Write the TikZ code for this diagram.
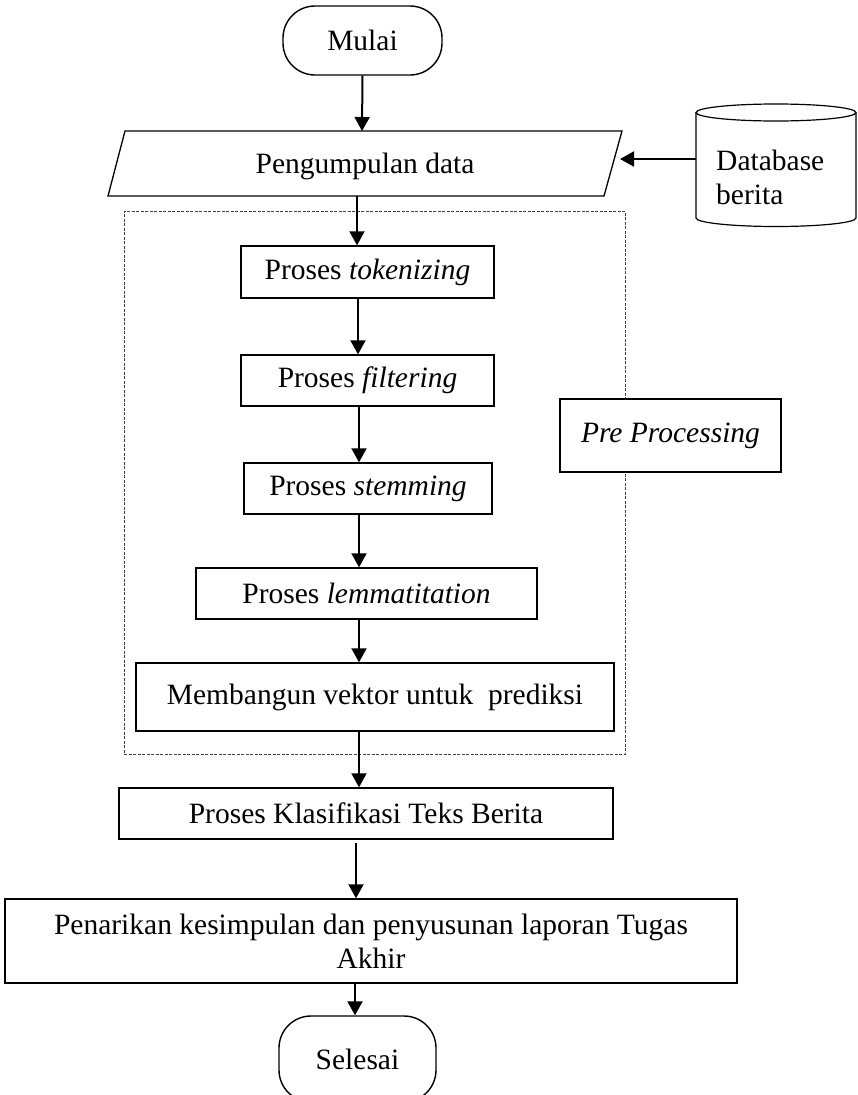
\documentclass[tikz,border=0pt]{standalone}
\usepackage{fontspec}
\setmainfont{Liberation Serif}
\usetikzlibrary{arrows.meta,calc}
\begin{document}
\begin{tikzpicture}[x=1pt,y=-1pt,
  txt/.style={font=\fontsize{29.5}{34}\selectfont},
  box/.style={txt,draw,line width=1.4pt,rectangle,inner sep=0pt,fill=white},
  term/.style={box,rounded corners=32pt},
  flow/.style={line width=2pt,-{Triangle[width=15pt,length=14pt]}},
  dashbox/.style={draw=black!75,line width=1pt,dash pattern=on 3pt off 1.5pt}]
\path[use as bounding box] (0,0) rectangle (857,1095);
% spine coordinates
\coordinate (spA) at (358,0);
\coordinate (spB) at (359,0);
\coordinate (spC) at (356,0);
\coordinate (spD) at (355,0);
% dashed pre-processing frame
\node[dashbox,minimum width=501pt,minimum height=543pt,inner sep=0pt] (frame) at (374.5,482.5) {};
% start
\node[term,minimum width=159pt,minimum height=69pt] (mulai) at (362.5,40.5) {Mulai};
% data input parallelogram
\draw[line width=1.3pt] (125,131) -- (622,131) -- (604,196) -- (108,196) -- cycle;
\node[txt,inner sep=0pt] (peng) at (365,166) {Pengumpulan data};
\coordinate (pengN) at (362,131);
\coordinate (pengS) at (357,196);
\coordinate (pengE) at (620,159);
% database cylinder
\draw[line width=1.2pt,fill=white] (696,112.5) -- (696,218) arc[start angle=180,end angle=0,x radius=80,y radius=8.5] -- (856,112.5);
\draw[line width=1.2pt] (776,112.5) ellipse [x radius=80,y radius=8.5];
\node[txt,anchor=west,align=left,inner sep=0pt] (db) at (716,177) {Database\\berita};
\coordinate (dbW) at (696,159);
% process boxes
\node[box,minimum width=253pt,minimum height=52pt] (tok) at (367.5,272) {Proses \textit{tokenizing}};
\node[box,minimum width=253pt,minimum height=51pt] (filt) at (367.5,380.5) {Proses \textit{filtering}};
\node[box,minimum width=248pt,minimum height=51pt] (stem) at (368,488.5) {Proses \textit{stemming}};
\node[box,minimum width=341pt,minimum height=51pt] (lemm) at (366.5,593.5) {Proses \textit{lemmatitation}};
\node[box,minimum width=478pt,minimum height=68pt] (memb) at (375,697) {Membangun vektor untuk\ \ prediksi};
\node[box,minimum width=221pt,minimum height=73pt] (pre) at (670.5,435.5) {\textit{Pre Processing}};
\node[box,minimum width=494pt,minimum height=51pt] (klas) at (366,813.5) {Proses Klasifikasi Teks Berita};
\node[box,minimum width=732pt,minimum height=84pt,align=center] (pen) at (371,941) {Penarikan kesimpulan dan penyusunan laporan Tugas\\Akhir};
% end
\begin{scope}
\clip (0,0) rectangle (857,1095);
\node[term,minimum width=157pt,minimum height=86pt] (sel) at (357.5,1059) {Selesai};
\end{scope}
% connectors
\draw[flow] (mulai.south) -- (pengN);
\draw[flow] (pengS) -- (pengS |- tok.north);
\draw[flow] (tok.south -| spA) -- (filt.north -| spA);
\draw[flow] (filt.south -| spB) -- (stem.north -| spB);
\draw[flow] (stem.south -| spB) -- (lemm.north -| spB);
\draw[flow] (lemm.south -| spB) -- (memb.north -| spB);
\draw[flow] (memb.south -| spB) -- (klas.north -| spB);
\draw[flow,shorten <=3pt] (klas.south -| spC) -- (pen.north -| spC);
\draw[flow] (pen.south -| spD) -- (sel.north -| spD);
\draw[flow] (dbW) -- (pengE);
\end{tikzpicture}
\end{document}
